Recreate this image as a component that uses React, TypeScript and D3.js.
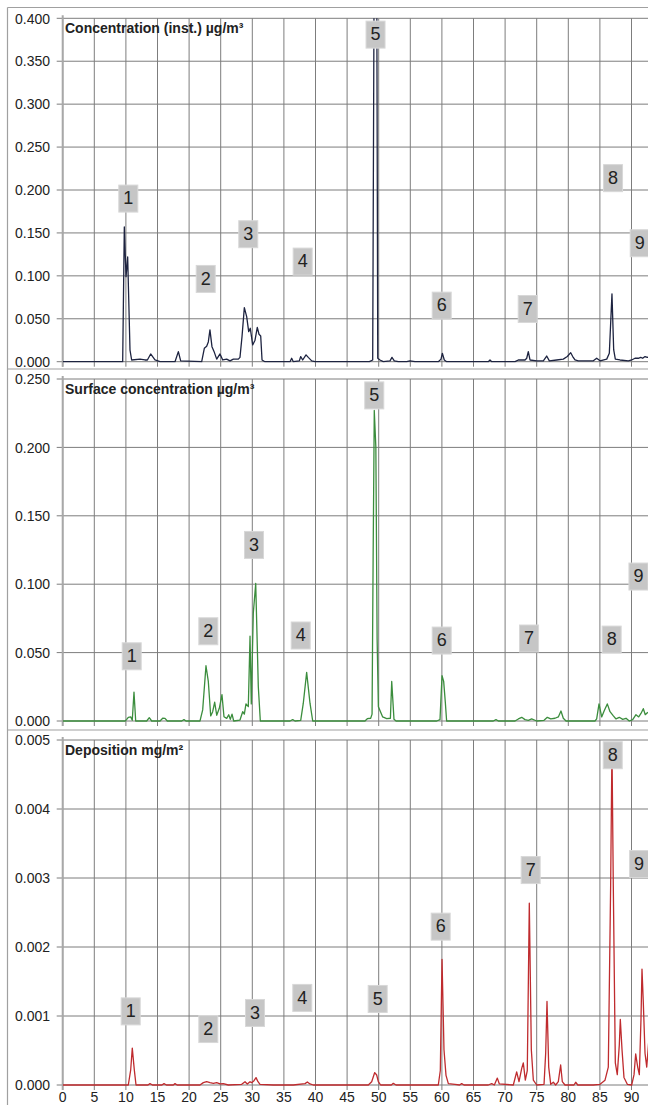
import React from "react";
import * as d3 from "d3";

// time axis (x) and tick labels
const xTickValues = [0, 5, 10, 15, 20, 25, 30, 35, 40, 45, 50, 55, 60, 65, 70, 75, 80, 85, 90];
const peakLabels = ["1", "2", "3", "4", "5", "6", "7", "8", "9"];

// concentration (inst.) ug/m3
const concTicks = [0, 0.05, 0.1, 0.15, 0.2, 0.25, 0.3, 0.35, 0.4];
const concentration: [number, number][] = [
  [0, 0], [9.49, 0], [9.75, 0.157], [10.02, 0.099], [10.28, 0.122], [10.65, 0.0136], [10.91, 0.002],
  [12.23, 0.003], [13.02, 0.002], [13.4, 0.002], [13.92, 0.009], [14.6, 0.002], [15.4, 0], [17.77, 0],
  [18.3, 0.0117], [18.67, 0.001], [21.99, 0], [22.41, 0.0156], [22.78, 0.018], [23.04, 0.023], [23.3, 0.037],
  [23.62, 0.0175], [23.94, 0.012], [24.37, 0.003], [24.89, 0.009], [25.32, 0.002], [25.95, 0.003],
  [26.47, 0.001], [27.0, 0.003], [27.79, 0.003], [28.05, 0.005], [28.37, 0.029], [28.74, 0.063],
  [29.11, 0.0525], [29.43, 0.035], [29.68, 0.039], [30.06, 0.0195], [30.43, 0.025], [30.79, 0.04],
  [31.06, 0.032], [31.33, 0.03], [31.54, 0.002], [32.0, 0], [35.97, 0], [36.23, 0.004], [36.49, 0],
  [37.44, 0.001], [37.66, 0.006], [37.97, 0.002], [38.5, 0.008], [38.86, 0.005], [39.4, 0.001], [39.92, 0],
  [48.52, 0], [49.05, 0.002], [49.3, 0.5], [49.68, 0.48], [49.85, 0.004], [50.2, 0.002], [50.73, 0],
  [51.79, 0.001], [52.1, 0.005], [52.47, 0.001], [53.1, 0], [54.43, 0], [54.95, 0.001], [55.74, 0],
  [59.43, 0], [59.86, 0.003], [60.07, 0.0098], [60.38, 0.002], [60.76, 0], [67.34, 0], [67.61, 0.002],
  [67.88, 0], [71.57, 0], [72.09, 0.002], [73.15, 0.002], [73.42, 0.004], [73.67, 0.0117], [73.94, 0.002],
  [75.0, 0.001], [76.05, 0.001], [76.58, 0.0066], [77.0, 0.001], [78.16, 0.002], [79.21, 0.003],
  [79.84, 0.006], [80.38, 0.0105], [80.7, 0.006], [81.06, 0.002], [81.59, 0.001], [83.96, 0.001],
  [84.49, 0.004], [85.02, 0.001], [86.08, 0.003], [86.49, 0.0098], [86.91, 0.079], [87.18, 0.014],
  [87.44, 0.003], [88.18, 0.002], [89.5, 0.001], [90.03, 0.002], [90.55, 0.004], [91.08, 0.004],
  [91.46, 0.005], [91.77, 0.004], [92.14, 0.006], [92.5, 0.005], [93.0, 0.006],
];
const concLabelX = [10.38, 22.63, 29.36, 37.97, 49.5, 59.97, 73.58, 87.08, 91.3];
const concLabelY = [0.19, 0.0964, 0.1485, 0.1166, 0.381, 0.0653, 0.0614, 0.2138, 0.138];

// surface concentration ug/m3
const surfTicks = [0, 0.05, 0.1, 0.15, 0.2, 0.25];
const surface: [number, number][] = [
  [0, 0], [9.86, 0], [10.13, 0.0012], [10.38, 0.0027], [10.76, 0.003], [11.01, 0.0005], [11.28, 0.0211],
  [11.55, 0], [13.29, 0], [13.7, 0.0024], [14.08, 0], [15.4, 0], [15.82, 0.002], [16.19, 0.0019],
  [16.55, 0], [18.83, 0], [19.19, 0.001], [19.5, 0], [21.72, 0], [22.15, 0.0081], [22.67, 0.0404],
  [23.04, 0.0289], [23.42, 0.0037], [23.73, 0.0068], [24.05, 0.0137], [24.37, 0.0042], [24.78, 0.0093],
  [25.2, 0.0193], [25.52, 0.0031], [25.95, 0.0019], [26.27, 0.0046], [26.52, 0.0012], [26.79, 0.005],
  [27.06, 0], [28.05, 0.0007], [28.48, 0.0068], [28.74, 0.005], [29.0, 0.0125], [29.37, 0.0105],
  [29.64, 0.062], [29.84, 0.0125], [30.16, 0.079], [30.54, 0.1005], [30.95, 0.0252], [31.27, 0],
  [35.97, 0], [36.39, 0.001], [36.76, 0], [37.66, 0.0005], [38.07, 0.013], [38.6, 0.0355], [39.13, 0.013],
  [39.56, 0], [47.83, 0], [48.2, 0.0017], [48.73, 0.002], [48.95, 0.005], [49.12, 0.12], [49.3, 0.227],
  [49.55, 0.2], [49.75, 0.06], [49.95, 0.0105], [50.63, 0.003], [51.27, 0.0017], [51.85, 0.002],
  [52.06, 0.0289], [52.42, 0.0012], [52.74, 0], [59.18, 0], [59.7, 0.001], [60.02, 0.0331], [60.28, 0.029],
  [60.54, 0.0137], [60.75, 0], [68.13, 0], [68.56, 0.001], [68.93, 0], [71.57, 0], [72.1, 0.0015],
  [72.63, 0.0027], [73.15, 0.001], [73.68, 0.0005], [74.2, 0.0015], [75.0, 0], [76.16, 0.0005],
  [76.68, 0.0027], [77.22, 0.0015], [77.9, 0.002], [78.42, 0.003], [78.84, 0.0073], [79.21, 0.002],
  [79.64, 0], [84.22, 0], [84.49, 0.0015], [84.86, 0.0125], [85.28, 0.003], [85.7, 0.0076], [86.17, 0.0125],
  [86.6, 0.0068], [87.13, 0.0037], [87.55, 0.0015], [88.07, 0.0027], [88.61, 0.0012], [89.13, 0.002],
  [89.65, 0], [90.19, 0.001], [90.71, 0.0046], [91.14, 0.003], [91.5, 0.0055], [91.87, 0.009],
  [92.18, 0.0046], [92.5, 0.006], [93.0, 0.007],
];
const surfLabelX = [10.92, 23.04, 30.27, 37.66, 49.3, 59.97, 73.79, 86.86, 91.1];
const surfLabelY = [0.0473, 0.0656, 0.1287, 0.0625, 0.238, 0.0588, 0.0603, 0.0595, 0.1056];

// deposition mg/m2
const depTicks = [0, 0.001, 0.002, 0.003, 0.004, 0.005];
const deposition: [number, number][] = [
  [0, 0], [10.38, 0], [10.76, 0.00022], [11.01, 0.000534], [11.33, 0.00022], [11.6, 0], [13.5, 0],
  [13.81, 0.00002], [14.2, 0], [15.7, 0], [16.03, 0.00002], [16.4, 0], [17.5, 0], [17.77, 0.00002],
  [18.1, 0], [21.72, 0], [22.25, 0.000034], [22.78, 0.000048], [23.31, 0.000034], [23.83, 0.000024],
  [24.37, 0.000034], [24.89, 0.000015], [25.41, 0.00002], [26.2, 0], [28.32, 0.00001], [28.85, 0.000048],
  [29.21, 0.000015], [29.64, 0.000048], [29.9, 0.000034], [30.27, 0.000063], [30.59, 0.000107],
  [30.9, 0.000048], [31.22, 0.00001], [33.33, 0], [36.49, 0], [38.34, 0.00002], [38.71, 0.000044],
  [39.13, 0.000015], [39.65, 0], [48.36, 0], [48.89, 0.000048], [49.37, 0.00018], [49.68, 0.000145],
  [49.94, 0.00005], [50.31, 0], [52.0, 0], [52.31, 0.000024], [52.74, 0], [59.43, 0], [59.75, 0.00021],
  [60.02, 0.00182], [60.33, 0.00051], [60.65, 0.00014], [61.02, 0.00002], [62.07, 0.00001], [62.8, 0],
  [63.13, 0.00002], [63.5, 0], [67.34, 0], [67.88, 0.00002], [68.3, 0], [68.77, 0.0001], [69.09, 0.000015],
  [71.3, 0], [71.83, 0.00019], [72.2, 0.00005], [72.63, 0.00024], [72.88, 0.00032], [73.2, 0.00007],
  [73.51, 0.00021], [73.83, 0.002634], [74.15, 0.00051], [74.47, 0.00007], [75.0, 0], [76.16, 0.00001],
  [76.42, 0.00046], [76.63, 0.00121], [76.9, 0.00026], [77.22, 0.00001], [77.63, 0.00004], [78.0, 0],
  [78.42, 0.00005], [78.79, 0.00029], [79.05, 0.00005], [79.48, 0], [80.9, 0], [81.17, 0.00004],
  [81.5, 0], [83.96, 0], [85.02, 0.00001], [85.81, 0.00007], [86.33, 0.00026], [86.7, 0.00289],
  [86.91, 0.0049], [87.12, 0.00289], [87.44, 0.00032], [87.75, 0.00015], [88.07, 0.00058],
  [88.23, 0.00095], [88.5, 0.00051], [88.81, 0.00011], [89.34, 0.00001], [90.03, 0], [90.4, 0.00015],
  [90.66, 0.00045], [90.98, 0.00026], [91.24, 0.00015], [91.5, 0.00095], [91.66, 0.00168],
  [91.87, 0.00119], [92.14, 0.00046], [92.41, 0.00026], [92.7, 0.0006], [93.0, 0.0009],
];
const depLabelX = [10.76, 23.04, 30.43, 37.91, 49.84, 59.81, 74.05, 87.03, 91.2];
const depLabelY = [0.001067, 0.000811, 0.001044, 0.001262, 0.001247, 0.002295, 0.003115, 0.004779, 0.003202];

const width = 648;
const height = 1105;
const frameX = 7.5;
const gridColor = "#7d7d7d";
const frameColor = "#a0a0a0";

const panels = [
  {
    id: "conc", title: "Concentration (inst.) \u00b5g/m\u00b3", data: concentration, ticks: concTicks,
    fmt: ".3f", color: "#1d2340", labelX: concLabelX, labelY: concLabelY,
    top: 7.5, y0: 361.7, y1: 18.3,
  },
  {
    id: "surf", title: "Surface concentration \u00b5g/m\u00b3", data: surface, ticks: surfTicks,
    fmt: ".3f", color: "#3b8d3d", labelX: surfLabelX, labelY: surfLabelY,
    top: 369, y0: 721, y1: 379,
  },
  {
    id: "dep", title: "Deposition mg/m\u00b2", data: deposition, ticks: depTicks,
    fmt: ".3f", color: "#bf2b2e", labelX: depLabelX, labelY: depLabelY,
    top: 730, y0: 1085, y1: 740,
  },
];

export default function App() {
  const x = d3.scaleLinear().domain([0, 95]).range([62.7, 62.7 + 95 * 6.32]);
  const font = "'Liberation Sans', Arial, sans-serif";

  return (
    <div style={{ position: "absolute", left: 0, top: 0, background: "#fff" }}>
      <svg width={width} height={height} style={{ display: "block", fontFamily: font }}>
        <rect width={width} height={height} fill="#fff" />
        {panels.map((p, pi) => {
          const yMax = p.ticks[p.ticks.length - 1];
          const y = d3.scaleLinear().domain([0, yMax]).range([p.y0, p.y1]);
          const line = d3
            .line<[number, number]>()
            .x((d) => x(d[0]))
            .y((d) => y(d[1]));
          const fmt = d3.format(p.fmt);
          return (
            <g key={p.id}>
              <defs>
                <clipPath id={`clip-${p.id}`}>
                  <rect x={x(0)} y={p.y1} width={width - x(0)} height={p.y0 - p.y1 + 1} />
                </clipPath>
              </defs>
              {/* panel frame */}
              <line x1={frameX} x2={width} y1={p.top} y2={p.top} stroke={frameColor} strokeWidth={1.2} />
              {/* horizontal grid + y ticks */}
              {p.ticks.map((t) => (
                <g key={t}>
                  <line x1={x(0) - 6} x2={width} y1={y(t)} y2={y(t)} stroke={gridColor} strokeWidth={1} />
                  <text x={50} y={y(t) + 1.5} textAnchor="end" dominantBaseline="middle"
                    fontSize={14} fill="#222">
                    {fmt(t)}
                  </text>
                </g>
              ))}
              {/* vertical grid + x ticks */}
              {xTickValues.map((v) => (
                <line key={v} x1={x(v)} x2={x(v)} y1={p.y1} y2={p.y0 + 5}
                  stroke={gridColor} strokeWidth={1} />
              ))}
              <line x1={x(0)} x2={x(0)} y1={p.y1 - 3} y2={p.y0 + 5} stroke="#a8a8a8" strokeWidth={2} />
              <text x={65} y={p.y1 + 15} fontSize={14} fontWeight="bold" fill="#222">
                {p.title}
              </text>
              <path d={line(p.data) ?? ""} fill="none" stroke={p.color} strokeWidth={1.3}
                strokeLinejoin="round" clipPath={`url(#clip-${p.id})`} />
              {peakLabels.map((lab, i) => {
                const cx = x(p.labelX[i]);
                const cy = y(p.labelY[i]);
                return (
                  <g key={lab}>
                    <rect x={cx - 9.5} y={cy - 13.5} width={19} height={27} fill="#c6c6c6"
                      stroke="#d8d8d8" strokeWidth={1} />
                    <text x={cx} y={cy + 1} textAnchor="middle" dominantBaseline="middle"
                      fontSize={18} fill="#222">
                      {lab}
                    </text>
                  </g>
                );
              })}
              {pi === panels.length - 1 &&
                xTickValues.map((v) => (
                  <text key={v} x={x(v)} y={1102} textAnchor="middle" fontSize={14} fill="#222">
                    {v}
                  </text>
                ))}
            </g>
          );
        })}
        <line x1={frameX} x2={frameX} y1={7.5} y2={height} stroke={frameColor} strokeWidth={1.2} />
      </svg>
    </div>
  );
}
